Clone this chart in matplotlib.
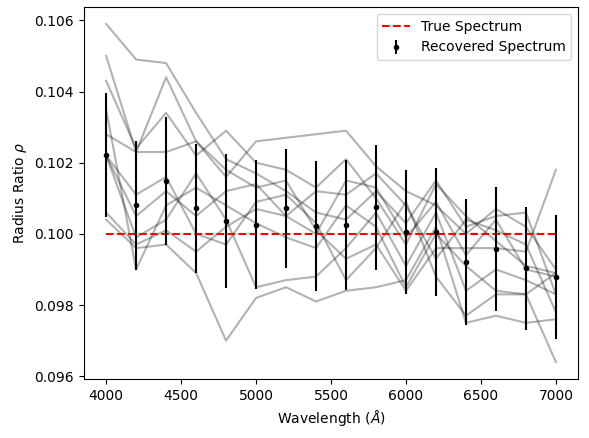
import numpy as np
import matplotlib
matplotlib.use("Agg")
import matplotlib.pyplot as plt

wavelength = np.arange(4000, 7001, 200)

true_ratio = 0.1

recovered = [0.10221, 0.10080, 0.10148, 0.10072, 0.10037, 0.10026, 0.10072, 0.10022,
             0.10024, 0.10075, 0.10005, 0.10005, 0.09920, 0.09957, 0.09903, 0.09878]
recovered_err = [0.00175, 0.00182, 0.00179, 0.00181, 0.00188, 0.00182, 0.00167, 0.00182,
                 0.00183, 0.00176, 0.00174, 0.00180, 0.00177, 0.00174, 0.00173, 0.00174]

# individual retrievals (grey lines)
samples = [
    [0.1059, 0.1049, 0.1048, 0.1034, 0.1021, 0.1017, 0.1012, 0.1006, 0.1004, 0.1012, 0.1003, 0.1015, 0.1002, 0.1005, 0.1006, 0.0983],
    [0.1050, 0.1023, 0.1044, 0.1026, 0.1016, 0.1026, 0.1027, 0.1028, 0.1029, 0.1019, 0.1012, 0.1008, 0.1000, 0.1007, 0.1002, 0.0990],
    [0.1043, 0.1024, 0.1034, 0.1022, 0.1029, 0.1020, 0.1018, 0.1013, 0.1021, 0.1010, 0.0997, 0.1014, 0.1005, 0.0998, 0.0991, 0.0989],
    [0.1004, 0.0996, 0.0997, 0.0989, 0.0970, 0.0982, 0.0985, 0.0981, 0.0984, 0.0985, 0.0987, 0.1002, 0.0975, 0.0977, 0.0975, 0.0976],
    [0.1035, 0.0990, 0.1008, 0.1013, 0.1008, 0.1003, 0.0999, 0.0996, 0.1008, 0.1002, 0.0985, 0.1000, 0.0991, 0.0984, 0.0983, 0.0989],
    [0.1028, 0.1023, 0.1023, 0.1026, 0.1018, 0.1013, 0.1015, 0.1001, 0.0993, 0.0997, 0.0984, 0.0996, 0.0996, 0.0996, 0.0995, 0.1018],
    [0.1022, 0.1005, 0.1012, 0.1005, 0.1012, 0.1014, 0.1005, 0.1012, 0.1011, 0.1017, 0.1008, 0.0993, 0.1004, 0.1001, 0.0997, 0.0978],
    [0.1022, 0.1011, 0.1016, 0.1000, 0.0997, 0.1009, 0.1011, 0.1003, 0.0987, 0.0996, 0.1009, 0.0988, 0.0977, 0.0983, 0.0983, 0.0964],
    [0.1022, 0.0999, 0.1004, 0.1017, 0.1004, 0.0985, 0.0987, 0.0988, 0.0996, 0.1006, 0.0991, 0.1006, 0.0984, 0.0990, 0.0987, 0.0983],
    [0.1006, 0.0997, 0.1001, 0.0995, 0.1002, 0.1007, 0.1005, 0.1000, 0.1015, 0.1013, 0.0999, 0.1009, 0.0994, 0.1004, 0.0990, 0.0988],
]

fig = plt.figure(figsize=(5.89, 4.38), dpi=100)
ax = fig.add_axes([0.142, 0.135, 0.840, 0.849])

for s in samples:
    ax.plot(wavelength, s, color='k', alpha=0.3)

ax.plot(wavelength, np.full(len(wavelength), true_ratio), 'r--', label='True Spectrum')
ax.errorbar(wavelength, recovered, yerr=recovered_err, fmt='k.', label='Recovered Spectrum')

ax.set_xlabel(r'Wavelength ($\AA$)')
ax.set_ylabel(r'Radius Ratio $\rho$')
ax.legend()

fig.savefig('out.png', dpi=100)
